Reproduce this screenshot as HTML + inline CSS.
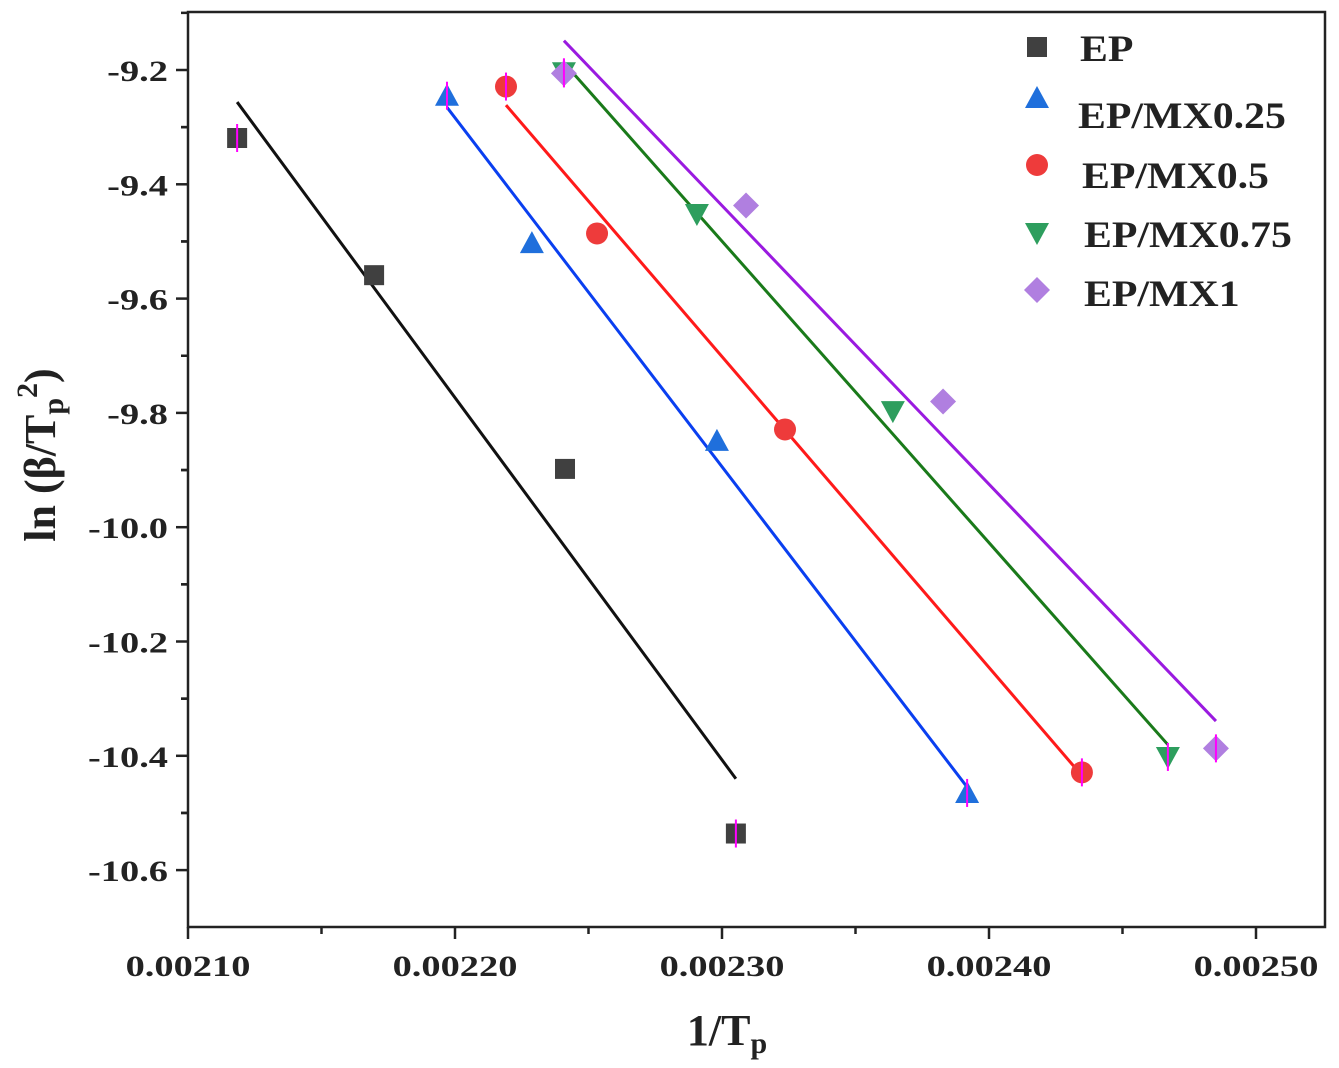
<!DOCTYPE html>
<html><head><meta charset="utf-8"><style>
body{margin:0;background:#fff;}
svg text{font-family:"Liberation Serif",serif;font-weight:bold;fill:#222;}
</style></head><body>
<svg id="chart" width="1339" height="1063" viewBox="0 0 1339 1063" xmlns="http://www.w3.org/2000/svg"></svg>
<script>
const seriesNames = ["EP","EP/MX0.25","EP/MX0.5","EP/MX0.75","EP/MX1"];
const xEP = [0.0021184,0.0021697,0.0022412,0.0023052];
const yEP = [-9.319,-9.559,-9.898,-10.536];
const xMX025 = [0.0021970,0.0022288,0.0022981,0.0023918];
const yMX025 = [-9.245,-9.503,-9.849,-10.465];
const xMX05 = [0.0022191,0.0022532,0.0023236,0.0024348];
const yMX05 = [-9.229,-9.486,-9.829,-10.429];
const xMX075 = [0.0022408,0.0022906,0.0023640,0.0024670];
const yMX075 = [-9.204,-9.452,-9.797,-10.402];
const xMX1 = [0.0022408,0.0023090,0.0023828,0.0024850];
const yMX1 = [-9.206,-9.437,-9.780,-10.387];
const xTicks = [0.00210,0.00220,0.00230,0.00240,0.00250];
const xTickLabels = ["0.00210","0.00220","0.00230","0.00240","0.00250"];
const yTicks = [-9.2,-9.4,-9.6,-9.8,-10.0,-10.2,-10.4,-10.6];
const yTickLabels = ["-9.2","-9.4","-9.6","-9.8","-10.0","-10.2","-10.4","-10.6"];

const L=188,R=1325,T=12,B=927;
const xs=v=>188+(v-0.00210)/0.0001*267;
const ys=v=>70+(-9.2-v)/0.2*114.3;
const svg=document.getElementById('chart');
const NS='http://www.w3.org/2000/svg';
function mk(tag,attrs,parent){const e=document.createElementNS(NS,tag);for(const k in attrs)e.setAttribute(k,attrs[k]);(parent||svg).appendChild(e);return e;}
function widen(t,f){const w=t.getComputedTextLength();t.setAttribute('textLength',w*f);t.setAttribute('lengthAdjust','spacingAndGlyphs');}

let e=mk('rect',{x:L,y:T,width:R-L,height:B-T,fill:'none',stroke:'#222','stroke-width':2.5});



xTicks.forEach((t,i)=>{
  const x=xs(t);
  let tk=mk('line',{x1:x,x2:x,y1:B,y2:B+12,stroke:'#222','stroke-width':2.5});
  
  
  if(i<xTicks.length-1){const xm=xs(t+0.00005);let m=mk('line',{x1:xm,x2:xm,y1:B,y2:B+7,stroke:'#222','stroke-width':2.5});
    
    }
  let lb=mk('text',{x:x,y:976,'text-anchor':'middle','font-size':30});lb.textContent=xTickLabels[i];
  
  
  widen(lb,1.28);
});
yTicks.forEach((t,i)=>{
  const y=ys(t);
  let tk=mk('line',{x1:L-12,x2:L,y1:y,y2:y,stroke:'#222','stroke-width':2.5});
  
  
  [t+0.1,t-0.1].forEach(v=>{const ym=ys(v);if(ym>T&&ym<B){let m=mk('line',{x1:L-7,x2:L,y1:ym,y2:ym,stroke:'#222','stroke-width':2.5});
    
    }});
  let lb=mk('text',{x:168,y:y+11,'text-anchor':'end','font-size':30});lb.textContent=yTickLabels[i];
  
  
  widen(lb,1.28);
});
let xt=mk('text',{x:727,y:1045,'text-anchor':'middle','font-size':44});
xt.innerHTML='1/T<tspan font-size="30" dy="8">p</tspan>';


let yt=mk('text',{x:0,y:0,'text-anchor':'middle','font-size':44,transform:'translate(55,455) rotate(-90)'});
yt.innerHTML='ln (β/T<tspan font-size="30" dy="8">p</tspan><tspan font-size="30" dy="-26">2</tspan><tspan dy="18">)</tspan>';



const data=[[xEP,yEP],[xMX025,yMX025],[xMX05,yMX05],[xMX075,yMX075],[xMX1,yMX1]];
const markerColors=['#404040','#1f6fdc','#ee3b3b','#2e9e5e','#b07fe0'];
const lineColors=['#111','#0a3ff0','#ff1a1a','#1a7a1a','#9a1ae0'];
const shapes=['square','tri','circle','tridown','diamond'];
function marker(shape,cx,cy,col){
  if(shape==='square')return mk('rect',{x:cx-10,y:cy-10,width:20,height:20,fill:col});
  if(shape==='circle')return mk('circle',{cx:cx,cy:cy,r:11,fill:col});
  if(shape==='tri')return mk('polygon',{points:`${cx},${cy-12} ${cx+12},${cy+10} ${cx-12},${cy+10}`,fill:col});
  if(shape==='tridown')return mk('polygon',{points:`${cx-12},${cy-10} ${cx+12},${cy-10} ${cx},${cy+12}`,fill:col});
  return mk('polygon',{points:`${cx},${cy-13} ${cx+13},${cy} ${cx},${cy+13} ${cx-13},${cy}`,fill:col});
}
data.forEach(([X,Y],si)=>{
  const n=X.length,mx=X.reduce((a,b)=>a+b)/n,my=Y.reduce((a,b)=>a+b)/n;
  let sxy=0,sxx=0;X.forEach((x,i)=>{sxy+=(x-mx)*(Y[i]-my);sxx+=(x-mx)**2;});
  const k=sxy/sxx,b=my-k*mx,x0=Math.min(...X),x1=Math.max(...X);
  let ln=mk('line',{x1:xs(x0),y1:ys(k*x0+b),x2:xs(x1),y2:ys(k*x1+b),stroke:lineColors[si],'stroke-width':3});
  
  
  X.forEach((x,i)=>{
    const m=marker(shapes[si],xs(x),ys(Y[i]),markerColors[si]);
    
    
    if(i===0||i===n-1){let eb=mk('line',{x1:xs(x),x2:xs(x),y1:ys(Y[i])-14,y2:ys(Y[i])+14,stroke:'#ff00ff','stroke-width':2});
      
      }
  });
});
const legY=[47,98,165,233,290],legTY=[61,128,188,247,306],legTX=[1080,1078,1082,1084,1084];
seriesNames.forEach((nm,i)=>{
  const m=marker(shapes[i],1037,legY[i],markerColors[i]);
  
  
  let t=mk('text',{x:legTX[i],y:legTY[i],'font-size':37});t.textContent=nm;
  
  
  widen(t,1.13);
});
</script>
</body></html>
